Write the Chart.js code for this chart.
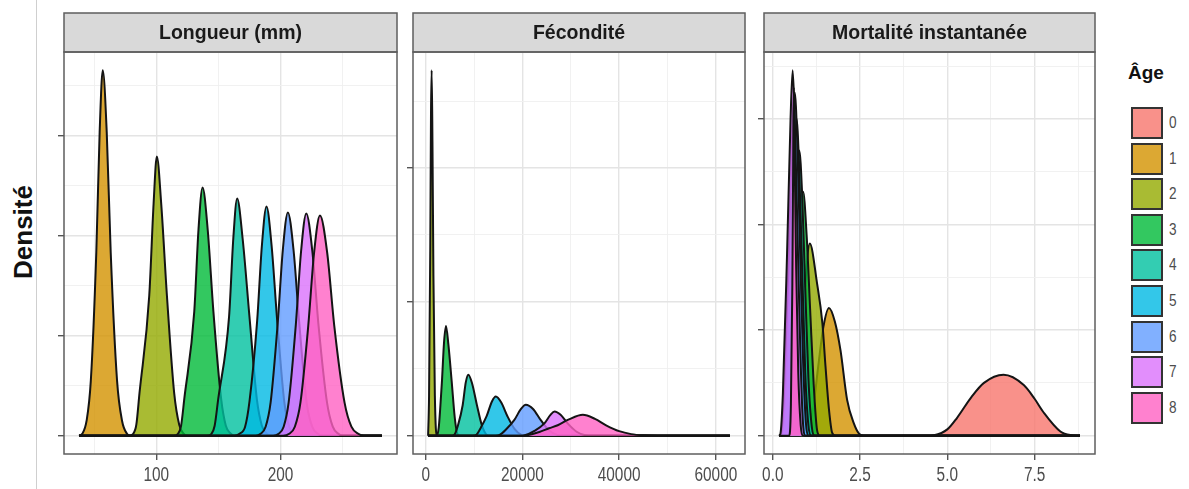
<!DOCTYPE html>
<html lang="fr">
<head>
<meta charset="utf-8">
<title>Densité par âge</title>
<script src="https://cdn.jsdelivr.net/npm/chart.js@4.4.1/dist/chart.umd.min.js"></script>
<style>
  html, body { margin: 0; padding: 0; background: #fff; }
  #wrap { position: relative; width: 1189px; height: 489px; overflow: hidden;
          font-family: "Liberation Sans", Arial, sans-serif; }
  #wrap canvas { position: absolute; top: 0; }
  #sep { position: absolute; left: 36px; top: 0; width: 1px; height: 489px; background: #cfcfcf; }
  #ylab { position: absolute; left: 23px; top: 232px; transform: translate(-50%, -50%) rotate(-90deg);
          font-weight: bold; font-size: 26px; color: #111; white-space: nowrap; }
  #legend-title { position: absolute; left: 1128px; top: 62px; font-weight: bold; font-size: 19px; color: #111; }
  .key { position: absolute; left: 1131px; width: 32px; height: 32px; box-sizing: border-box;
         border: 2px solid #333; }
  .key-lab { position: absolute; left: 1169px; font-size: 16px; color: #4d4d4d; line-height: 32px;
             transform: scaleX(0.85); transform-origin: left center; }
</style>
</head>
<body>
<div id="wrap">
  <div id="sep"></div>
  <div id="ylab">Densité</div>
  <canvas id="c1"></canvas>
  <canvas id="c2"></canvas>
  <canvas id="c3"></canvas>
  <div id="legend-title">Âge</div>
  <div id="legend"></div>
</div>
<script>
const ages = ["0", "1", "2", "3", "4", "5", "6", "7", "8"];
const panelTitles = ["Longueur (mm)", "Fécondité", "Mortalité instantanée"];

// labelled x ticks per panel
const longueurTicks = [100, 200];
const longueurLabels = ["100", "200"];
const fecondTicks = [0, 20000, 40000, 60000];
const fecondLabels = ["0", "20000", "40000", "60000"];
const mortTicks = [0, 2.5, 5, 7.5];
const mortLabels = ["0.0", "2.5", "5.0", "7.5"];

// y ticks (shown without labels in the original)
const longueurYTicks = [0, 0.01, 0.02, 0.03];
const fecondYTicks = [0, 0.0005, 0.001];
const mortYTicks = [0, 1, 2, 3];

// density curves, [x, density]
const long1 = [[38,0],[40.5,0.0002],[44,0.0015],[47.4,0.0055],[51.8,0.0183],[54.5,0.0303],[57,0.0365],[60.2,0.0303],[63.4,0.0183],[68.5,0.0055],[72.5,0.0015],[76.5,0.0002],[79,0],[281.5,0]];
const long2 = [[38,0],[78,0],[81.5,0.0002],[84,0.0011],[86.5,0.0042],[94.4,0.014],[97.9,0.0232],[100.5,0.0279],[104,0.0232],[108.6,0.014],[114.5,0.0042],[118.5,0.0011],[122,0.0002],[125,0],[281.5,0]];
const long3 = [[38,0],[114,0],[117.5,0.0002],[120,0.001],[122.6,0.0037],[130.6,0.0124],[134,0.0206],[137.3,0.0248],[141.4,0.0206],[146,0.0124],[152.2,0.0037],[156,0.001],[160,0.0002],[163,0],[281.5,0]];
const long4 = [[38,0],[141,0],[144.5,0.0002],[147,0.001],[149.8,0.0036],[158.6,0.0119],[162,0.0197],[165.1,0.0237],[169.5,0.0197],[175,0.0119],[181,0.0036],[185,0.001],[189,0.0002],[192,0],[281.5,0]];
const long5 = [[38,0],[163,0],[167,0.0002],[171.5,0.0009],[175,0.0034],[181.2,0.0115],[185,0.019],[188.7,0.0229],[192.8,0.019],[197.3,0.0115],[203,0.0034],[207,0.0009],[211,0.0002],[214,0],[281.5,0]];
const long6 = [[38,0],[180,0],[184,0.0002],[188,0.0009],[192,0.0033],[197.7,0.0112],[201.8,0.0185],[205.9,0.0223],[210.5,0.0185],[215.1,0.0112],[221,0.0033],[225.5,0.0009],[230,0.0002],[233,0],[281.5,0]];
const long7 = [[38,0],[194,0],[198.5,0.0002],[202.5,0.0009],[206.5,0.0033],[212.3,0.0111],[216.5,0.0184],[220.7,0.0222],[225.6,0.0184],[230.5,0.0111],[237.4,0.0033],[242,0.0009],[246.5,0.0002],[250,0],[281.5,0]];
const long8 = [[38,0],[202,0],[207,0.0002],[211.5,0.0009],[216,0.0033],[222.3,0.011],[227,0.0183],[231.7,0.022],[237.5,0.0183],[243.2,0.011],[251.5,0.0033],[257,0.0009],[262.5,0.0002],[267,0],[281.5,0]];

const fec2 = [[500,0],[700,0.00015],[950,0.0007],[1100,0.0012],[1240,0.001365],[1400,0.0011],[1600,0.0006],[1900,0.00015],[2300,0],[62900,0]];
const fec3 = [[500,0],[2300,0],[2700,0.00003],[3000,0.0001],[3370,0.000205],[3800,0.00035],[4200,0.00041],[4700,0.00034],[5370,0.000205],[6000,0.00007],[6500,0.00001],[7000,0],[62900,0]];
const fec4 = [[500,0],[5500,0],[6000,0.000005],[6700,0.00004],[7650,0.000114],[8300,0.0002],[8820,0.000228],[9600,0.000195],[10600,0.000114],[11600,0.00004],[12500,0.000005],[13200,0],[62900,0]];
const fec5 = [[500,0],[9800,0],[10500,0.000004],[11400,0.00003],[12600,0.000073],[13700,0.000128],[14500,0.0001465],[15600,0.000125],[16900,0.000073],[18400,0.000025],[19800,0.000003],[20600,0],[62900,0]];
const fec6 = [[500,0],[14500,0],[15300,0.000003],[16700,0.000025],[18300,0.000058],[19700,0.0001],[20700,0.0001157],[22200,0.0001],[23800,0.000058],[25500,0.00002],[27200,0.000003],[28200,0],[62900,0]];
const fec7 = [[500,0],[19500,0],[20500,0.000002],[22500,0.000018],[24500,0.000045],[25800,0.000078],[26650,0.0000907],[27900,0.000078],[29400,0.000045],[31200,0.000015],[33000,0.000002],[34500,0],[62900,0]];
const fec8 = [[500,0],[19500,0],[21000,0.000002],[23500,0.000014],[25500,0.000028],[27300,0.000039],[29500,0.00006],[32500,0.0000784],[35000,0.000063],[37300,0.000039],[40000,0.000017],[42500,0.000006],[45000,0.0000015],[48000,0],[62900,0]];

const mort0 = [[0.18,0],[4.4,0],[4.62,0.005],[5.0,0.06],[5.28,0.17],[5.7,0.37],[6.05,0.5],[6.61,0.577],[7.19,0.48],[7.5,0.35],[7.76,0.22],[8.24,0.04],[8.55,0.005],[8.8,0]];
const mort1 = [[0.18,0],[0.75,0],[0.95,0.03],[1.15,0.25],[1.3,0.65],[1.45,1.03],[1.61,1.21],[1.78,1.08],[1.94,0.81],[2.13,0.34],[2.32,0.12],[2.47,0.02],[2.6,0],[8.8,0]];
const mort2 = [[0.18,0],[0.45,0],[0.6,0.15],[0.75,0.6],[0.9,1.3],[1.06,1.82],[1.27,1.44],[1.42,1.07],[1.51,0.66],[1.61,0.25],[1.7,0.03],[1.8,0],[8.8,0]];
const mort3 = [[0.18,0],[0.33,0],[0.48,0.3],[0.63,1.3],[0.77,2.1],[0.87,2.31],[0.97,1.9],[1.07,1.2],[1.17,0.5],[1.27,0.05],[1.35,0],[8.8,0]];
const mort4 = [[0.18,0],[0.3,0.02],[0.42,0.4],[0.56,1.5],[0.67,2.35],[0.76,2.7],[0.84,2.3],[0.93,1.4],[1.02,0.55],[1.12,0.08],[1.2,0],[8.8,0]];
const mort5 = [[0.18,0],[0.27,0.02],[0.37,0.45],[0.5,1.6],[0.6,2.6],[0.68,3.0],[0.75,2.6],[0.84,1.6],[0.93,0.6],[1.02,0.1],[1.1,0],[8.8,0]];
const mort6 = [[0.18,0],[0.24,0.02],[0.32,0.4],[0.45,1.6],[0.55,2.8],[0.63,3.25],[0.7,2.8],[0.78,1.8],[0.87,0.7],[0.95,0.12],[1.02,0],[8.8,0]];
const mort7 = [[0.18,0],[0.22,0.02],[0.29,0.4],[0.41,1.73],[0.51,3.0],[0.57,3.46],[0.63,3.0],[0.71,1.9],[0.79,0.8],[0.86,0.15],[0.92,0],[8.8,0]];
const mort8 = [[0.18,0],[0.47,0],[0.52,0.3],[0.56,1.4],[0.585,2.6],[0.6,3.3],[0.625,2.7],[0.67,1.6],[0.73,0.6],[0.8,0.1],[0.86,0],[8.8,0]];

const longueurCurves = [null, long1, long2, long3, long4, long5, long6, long7, long8];
const fecondCurves = [null, null, fec2, fec3, fec4, fec5, fec6, fec7, fec8];
const mortCurves = [mort0, mort1, mort2, mort3, mort4, mort5, mort6, mort7, mort8];

// styling
const hues = ["248,118,109", "211,146,0", "147,170,0", "0,186,56", "0,193,159",
              "0,185,227", "97,156,255", "219,114,251", "255,97,195"];
const FILL_ALPHA = 0.8;
const BORDER = "#5e5e5e";
const Y_AXIS_W = 24, RIGHT_PAD = 14, STRIP_TOP = 13, PLOT_TOP = 52, X_AXIS_H = 35;

const panels = [
  { canvas: "c1", left: 64, right: 397, curves: longueurCurves, xTicks: longueurTicks, xLabels: longueurLabels, yTicks: longueurYTicks },
  { canvas: "c2", left: 413, right: 745, curves: fecondCurves, xTicks: fecondTicks, xLabels: fecondLabels, yTicks: fecondYTicks },
  { canvas: "c3", left: 764, right: 1095, curves: mortCurves, xTicks: mortTicks, xLabels: mortLabels, yTicks: mortYTicks }
];

// major ticks plus the minor ones halfway between, like ggplot's grid
function gridTicks(majors, min, max) {
  const half = (majors[1] - majors[0]) / 2;
  const out = [];
  for (let k = Math.ceil(min / half); k <= Math.floor(max / half); k++) {
    const v = +(k * half).toPrecision(10);
    out.push({ value: v, major: majors.some(m => Math.abs(m - v) < half * 1e-6) });
  }
  return out;
}

const gridStyle = {
  color: c => (c.tick && c.tick.major) ? "#e4e4e4" : "#efefef",
  lineWidth: c => (c.tick && c.tick.major) ? 1.4 : 0.9,
  tickColor: c => (c.tick && c.tick.major) ? "#555" : "rgba(0,0,0,0)",
  tickWidth: 1.4,
  tickLength: 6
};

// facet strip, panel frame and the (slightly condensed) x labels
const stripPlugin = {
  id: "strip",
  afterDraw(chart, args, opts) {
    const { left, right, top, bottom } = chart.chartArea;
    const ctx = chart.ctx;
    ctx.save();
    ctx.fillStyle = "#d9d9d9";
    ctx.fillRect(left, STRIP_TOP, right - left, top - STRIP_TOP);
    ctx.strokeStyle = BORDER;
    ctx.lineWidth = 1.5;
    ctx.strokeRect(left, STRIP_TOP, right - left, top - STRIP_TOP);
    ctx.strokeRect(left, top, right - left, bottom - top);
    ctx.fillStyle = "#1a1a1a";
    ctx.font = 'bold 19.5px "Liberation Sans", Arial, sans-serif';
    ctx.textAlign = "center";
    ctx.textBaseline = "middle";
    ctx.fillText(opts.text, (left + right) / 2, (STRIP_TOP + top) / 2 + 1);

    const xs = chart.scales.x;
    ctx.fillStyle = "#4d4d4d";
    ctx.font = '20.5px "Liberation Sans", Arial, sans-serif';
    ctx.textBaseline = "alphabetic";
    opts.ticks.forEach((v, k) => {
      ctx.save();
      ctx.translate(xs.getPixelForValue(v), 481);
      ctx.scale(0.75, 1);
      ctx.fillText(opts.labels[k], 0, 0);
      ctx.restore();
    });
    ctx.restore();
  }
};

panels.forEach((p, i) => {
  const datasets = [];
  p.curves.forEach((pts, age) => {
    if (!pts) return;
    datasets.push({
      label: ages[age],
      data: pts.map(([x, y]) => ({ x, y })),
      backgroundColor: `rgba(${hues[age]},${FILL_ALPHA})`,
      borderColor: "#141414",
      borderWidth: 2,
      fill: "origin",
      pointRadius: 0,
      cubicInterpolationMode: "monotone",
      order: 8 - age
    });
  });

  const xs = datasets.flatMap(d => d.data.map(pt => pt.x));
  const ys = datasets.flatMap(d => d.data.map(pt => pt.y));
  const xMin = Math.min(...xs), xMax = Math.max(...xs), yMax = Math.max(...ys);
  const xPad = (xMax - xMin) * 0.05;

  const canvas = document.getElementById(p.canvas);
  canvas.width = Y_AXIS_W + (p.right - p.left) + RIGHT_PAD;
  canvas.height = 489;
  canvas.style.left = (p.left - Y_AXIS_W) + "px";

  new Chart(canvas, {
    type: "line",
    data: { datasets },
    options: {
      responsive: false,
      animation: false,
      devicePixelRatio: 1,
      layout: { autoPadding: false, padding: { top: PLOT_TOP, right: RIGHT_PAD, bottom: 0, left: 0 } },
      plugins: {
        legend: { display: false },
        tooltip: { enabled: false },
        strip: { text: panelTitles[i], ticks: p.xTicks, labels: p.xLabels }
      },
      scales: {
        x: {
          type: "linear",
          min: xMin - xPad,
          max: xMax + xPad,
          afterBuildTicks: s => { s.ticks = gridTicks(p.xTicks, s.min, s.max); },
          afterFit: s => { s.height = X_AXIS_H; },
          grid: gridStyle,
          border: { display: false },
          ticks: { display: false, autoSkip: false, maxRotation: 0 }
        },
        y: {
          type: "linear",
          min: -0.05 * yMax,
          max: 1.05 * yMax,
          afterBuildTicks: s => { s.ticks = gridTicks(p.yTicks, s.min, s.max); },
          afterFit: s => { s.width = Y_AXIS_W; },
          grid: gridStyle,
          border: { display: false },
          ticks: { display: false }
        }
      }
    },
    plugins: [stripPlugin]
  });
});

// legend, same colours as the fills
const legend = document.getElementById("legend");
ages.forEach((a, i) => {
  const top = 107 + i * 35.6;
  const key = document.createElement("div");
  key.className = "key";
  key.style.top = top + "px";
  key.style.background = `rgba(${hues[i]},${FILL_ALPHA})`;
  legend.appendChild(key);
  const lab = document.createElement("div");
  lab.className = "key-lab";
  lab.style.top = top + "px";
  lab.textContent = a;
  legend.appendChild(lab);
});
</script>
</body>
</html>
